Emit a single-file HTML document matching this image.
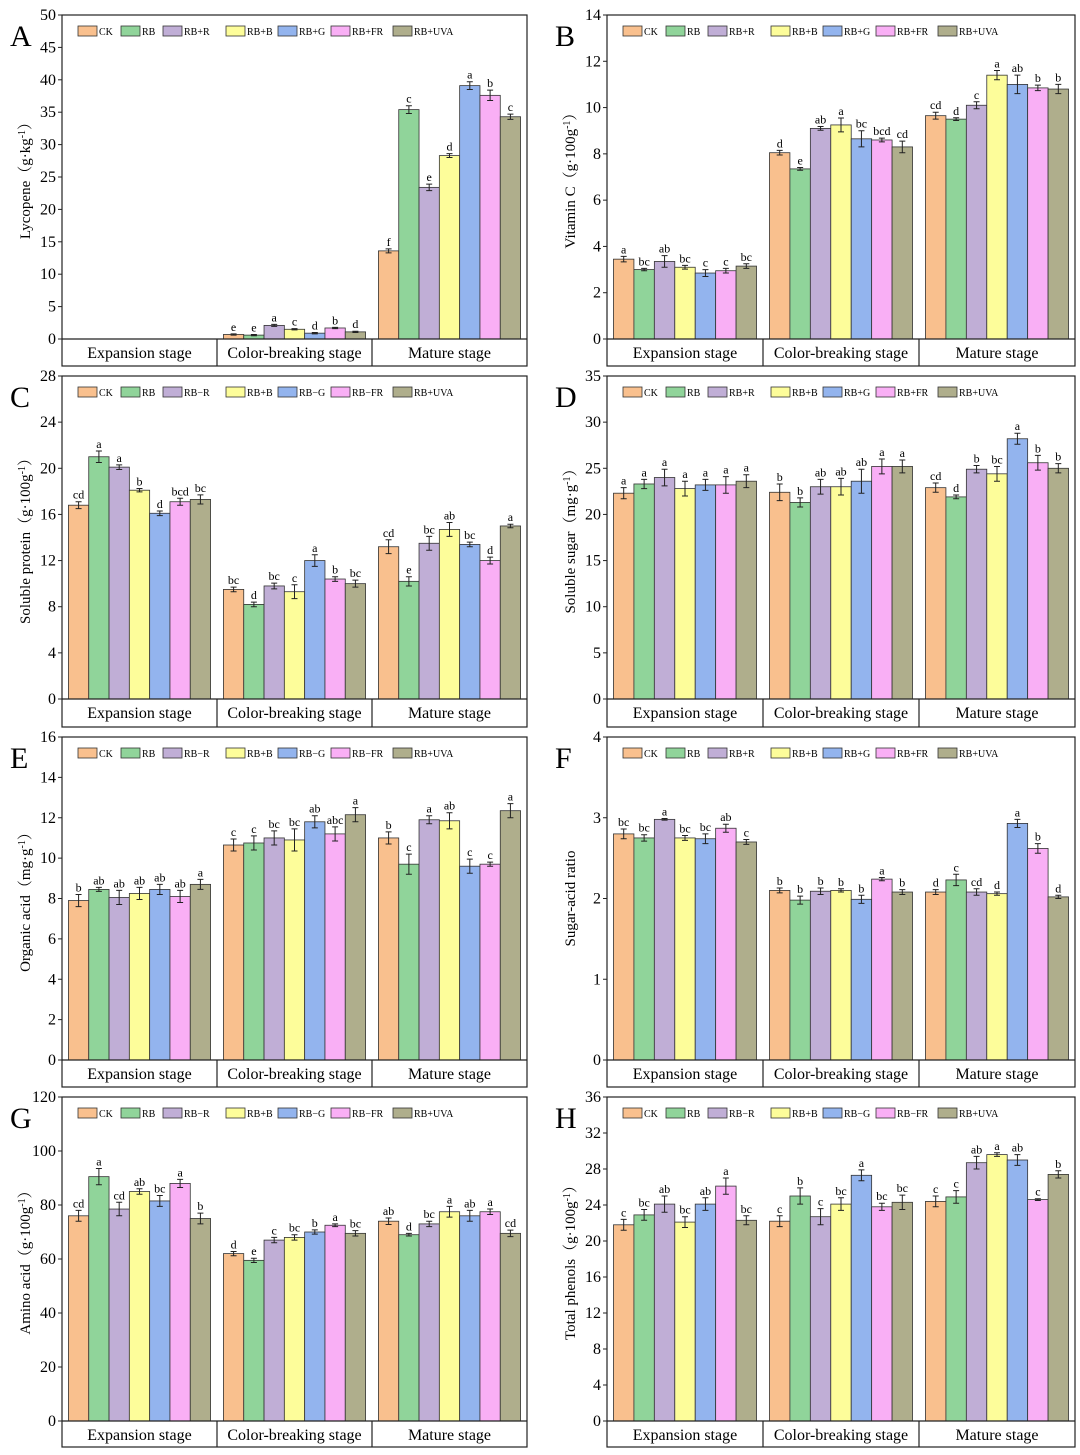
<!DOCTYPE html>
<html><head><meta charset="utf-8">
<style>
html,body{margin:0;padding:0;background:#fff;}
svg{display:block;font-family:"Liberation Serif","Noto Serif CJK SC",serif;}
</style></head>
<body>
<svg id="fig" width="1080" height="1455" viewBox="0 0 1080 1455" xmlns="http://www.w3.org/2000/svg"></svg>
<script>
const categories = ["Expansion stage","Color-breaking stage","Mature stage"];
const treatments = ["CK","RB","RB+R","RB+B","RB+G","RB+FR","RB+UVA"];
const colors = ["#F9C08E","#90D49A","#C0AED6","#FDFD9A","#93B4EE","#F9AFF5","#AFAE8C"];

const valsA = [[0,0,0,0,0,0,0],[0.7,0.6,2.1,1.5,0.9,1.7,1.1],[13.6,35.4,23.4,28.3,39.1,37.6,34.3]];
const errA = [[0,0,0,0,0,0,0],[0.1,0.1,0.15,0.1,0.1,0.1,0.1],[0.3,0.6,0.5,0.3,0.6,0.8,0.4]];
const letA = [["","","","","","",""],["e","e","a","c","d","b","d"],["f","c","e","d","a","b","c"]];
const ticksA = [0,5,10,15,20,25,30,35,40,45,50];

const valsB = [[3.45,3.0,3.35,3.1,2.85,2.95,3.15],[8.05,7.35,9.1,9.25,8.65,8.6,8.3],[9.65,9.5,10.1,11.4,11.0,10.85,10.8]];
const errB = [[0.12,0.05,0.25,0.08,0.15,0.1,0.1],[0.1,0.06,0.08,0.3,0.35,0.08,0.25],[0.15,0.06,0.15,0.2,0.4,0.12,0.2]];
const letB = [["a","bc","ab","bc","c","c","bc"],["d","e","ab","a","bc","bcd","cd"],["cd","d","c","a","ab","b","b"]];
const ticksB = [0,2,4,6,8,10,12,14];

const valsC = [[16.8,21.0,20.1,18.1,16.1,17.1,17.3],[9.5,8.2,9.8,9.3,12.0,10.4,10.0],[13.2,10.2,13.5,14.7,13.4,12.0,15.0]];
const errC = [[0.3,0.5,0.2,0.15,0.2,0.3,0.4],[0.2,0.2,0.25,0.6,0.5,0.2,0.3],[0.6,0.4,0.6,0.6,0.2,0.3,0.15]];
const letC = [["cd","a","a","b","d","bcd","bc"],["bc","d","bc","c","a","b","bc"],["cd","e","bc","ab","bc","d","a"]];
const ticksC = [0,4,8,12,16,20,24,28];

const valsD = [[22.3,23.3,24.0,22.8,23.2,23.2,23.6],[22.4,21.3,23.0,23.0,23.6,25.2,25.2],[22.9,21.9,24.9,24.4,28.2,25.6,25.0]];
const errD = [[0.6,0.5,0.9,0.8,0.6,0.9,0.7],[0.9,0.5,0.8,0.9,1.3,0.8,0.7],[0.5,0.2,0.4,0.8,0.6,0.8,0.5]];
const letD = [["a","a","a","a","a","a","a"],["b","b","ab","ab","ab","a","a"],["cd","d","b","bc","a","b","b"]];
const ticksD = [0,5,10,15,20,25,30,35];

const valsE = [[7.9,8.45,8.05,8.25,8.45,8.1,8.7],[10.65,10.75,11.0,10.9,11.8,11.2,12.15],[11.0,9.7,11.9,11.85,9.6,9.7,12.35]];
const errE = [[0.3,0.1,0.35,0.3,0.25,0.3,0.25],[0.3,0.35,0.35,0.55,0.3,0.35,0.35],[0.3,0.5,0.2,0.4,0.35,0.1,0.35]];
const letE = [["b","ab","ab","ab","ab","ab","a"],["c","c","bc","bc","ab","abc","a"],["b","c","a","ab","c","c","a"]];
const ticksE = [0,2,4,6,8,10,12,14,16];

const valsF = [[2.8,2.75,2.98,2.75,2.74,2.87,2.7],[2.1,1.98,2.09,2.1,1.99,2.24,2.08],[2.08,2.23,2.08,2.06,2.93,2.62,2.02]];
const errF = [[0.06,0.04,0.01,0.03,0.06,0.05,0.03],[0.03,0.05,0.04,0.02,0.05,0.02,0.03],[0.03,0.07,0.04,0.02,0.05,0.06,0.02]];
const letF = [["bc","bc","a","bc","bc","ab","c"],["b","b","b","b","b","a","b"],["d","c","cd","d","a","b","d"]];
const ticksF = [0,1,2,3,4];

const valsG = [[76,90.5,78.5,85,81.5,88,75],[62,59.5,67,68,70,72.5,69.5],[74,69,73,77.5,76,77.5,69.5]];
const errG = [[2,3,2.5,1,2,1.5,2],[0.8,0.8,1,1,0.8,0.5,1],[1.2,0.5,1,2,2,1,1.2]];
const letG = [["cd","a","cd","ab","bc","a","b"],["d","e","c","bc","b","a","bc"],["ab","d","bc","a","ab","a","cd"]];
const ticksG = [0,20,40,60,80,100,120];

const valsH = [[21.8,22.9,24.1,22.1,24.1,26.1,22.3],[22.2,25.0,22.7,24.1,27.3,23.8,24.3],[24.4,24.9,28.7,29.6,29.0,24.6,27.4]];
const errH = [[0.6,0.6,0.9,0.6,0.7,0.9,0.5],[0.6,0.9,0.9,0.7,0.6,0.4,0.8],[0.6,0.7,0.7,0.2,0.6,0.1,0.4]];
const letH = [["c","bc","ab","bc","ab","a","bc"],["c","b","c","bc","a","bc","bc"],["c","c","ab","a","ab","c","b"]];
const ticksH = [0,4,8,12,16,20,24,28,32,36];

const svg = document.getElementById('fig');
const NS = "http://www.w3.org/2000/svg";
function mk(tag, attrs, parent){
  const e = document.createElementNS(NS, tag);
  for (const k in attrs) e.setAttribute(k, attrs[k]);
  (parent||svg).appendChild(e);
  return e;
}

function panel(cfg){
  const {id, letter, x0, x1, yTop, yAxis, yBot, ticks, vals, errs, lets, title, legendLabels} = cfg;
  const g = mk('g', {});
  
  
  const ymax = ticks[ticks.length-1];
  const yS = v => yAxis - (v/ymax)*(yAxis-yTop);
  const gw = (x1-x0)/3;
  const bw = gw*0.131;
  const pad = (gw - 7*bw)/2;
  for (let c=0;c<3;c++){
    for (let t=0;t<7;t++){
      const v = vals[c][t];
      if (v<=0) continue;
      const bx = x0 + c*gw + pad + t*bw;
      const r = mk('rect', {x:bx, y:yS(v), width:bw, height:yAxis-yS(v), fill:colors[t], stroke:'#333', 'stroke-width':0.8}, g);
      
      
      const e = errs[c][t];
      const cx = bx + bw/2;
      const eb = mk('path', {d:`M${cx-3},${yS(v+e)}H${cx+3}M${cx},${yS(v+e)}V${yS(v-e)}M${cx-3},${yS(v-e)}H${cx+3}`, stroke:'#222', 'stroke-width':1, fill:'none'}, g);
      
      
      const lt = mk('text', {x:cx, y:yS(v+e)-3, 'text-anchor':'middle', 'font-size':12}, g);
      
      
      lt.textContent = lets[c][t];
    }
  }
  const fr = mk('rect', {x:x0, y:yTop, width:x1-x0, height:yBot-yTop, fill:'none', stroke:'#222', 'stroke-width':1.2}, g);
  
  
  mk('line', {x1:x0, x2:x1, y1:yAxis, y2:yAxis, stroke:'#222', 'stroke-width':1.2}, g);
  for (let c=1;c<3;c++){
    mk('line', {x1:x0+c*gw, x2:x0+c*gw, y1:yAxis, y2:yBot, stroke:'#222', 'stroke-width':1.2}, g);
  }
  for (let c=0;c<3;c++){
    const ct = mk('text', {x:x0+c*gw+gw/2, y:yAxis+19, 'text-anchor':'middle', 'font-size':16}, g);
    
    
    ct.textContent = categories[c];
  }
  ticks.forEach(tv=>{
    const y = yS(tv);
    mk('line', {x1:x0-4, x2:x0, y1:y, y2:y, stroke:'#222', 'stroke-width':1}, g);
    const tt = mk('text', {x:x0-6, y:y+5, 'text-anchor':'end', 'font-size':16}, g);
    
    
    tt.textContent = tv;
  });
  const cy = (yTop+yAxis)/2;
  const yt = mk('text', {x:0, y:0, transform:`translate(${x0-32},${cy}) rotate(-90)`, 'text-anchor':'middle', 'font-size':15}, g);
  
  
  yt.innerHTML = title;
  const pl = mk('text', {x:x0-52, y:yTop+31, 'font-size':30}, g);
  
  
  pl.textContent = letter;
  const lx = [16, 59, 101, 164, 216, 269, 331];
  for (let t=0;t<7;t++){
    const sx = x0 + lx[t];
    const sw = mk('rect', {x:sx, y:yTop+11, width:19, height:10, fill:colors[t], stroke:'#333', 'stroke-width':0.8}, g);
    
    
    const ltx = mk('text', {x:sx+21, y:yTop+20, 'font-size':10}, g);
    
    
    ltx.textContent = legendLabels[t];
  }
}

const L = [62, 527], R = [607, 1075];
const rows = [[15,339,366],[376,699,727],[737,1060,1087],[1097,1421,1447]];
const sup = s => `<tspan baseline-shift="super" font-size="10">${s}</tspan>`;
const legA = ["CK","RB","RB+R","RB+B","RB+G","RB+FR","RB+UVA"];
const legH = ["CK","RB","RB−R","RB+B","RB−G","RB−FR","RB+UVA"];
panel({id:'A',letter:'A',x0:L[0],x1:L[1],yTop:rows[0][0],yAxis:rows[0][1],yBot:rows[0][2],ticks:ticksA,vals:valsA,errs:errA,lets:letA,title:'Lycopene（g·kg'+sup('-1')+'）',legendLabels:legA});
panel({id:'B',letter:'B',x0:R[0],x1:R[1],yTop:rows[0][0],yAxis:rows[0][1],yBot:rows[0][2],ticks:ticksB,vals:valsB,errs:errB,lets:letB,title:'Vitamin C（g·100g'+sup('-1')+'）',legendLabels:legA});
panel({id:'C',letter:'C',x0:L[0],x1:L[1],yTop:rows[1][0],yAxis:rows[1][1],yBot:rows[1][2],ticks:ticksC,vals:valsC,errs:errC,lets:letC,title:'Soluble protein（g·100g'+sup('-1')+'）',legendLabels:legH});
panel({id:'D',letter:'D',x0:R[0],x1:R[1],yTop:rows[1][0],yAxis:rows[1][1],yBot:rows[1][2],ticks:ticksD,vals:valsD,errs:errD,lets:letD,title:'Soluble sugar（mg·g'+sup('-1')+'）',legendLabels:legA});
panel({id:'E',letter:'E',x0:L[0],x1:L[1],yTop:rows[2][0],yAxis:rows[2][1],yBot:rows[2][2],ticks:ticksE,vals:valsE,errs:errE,lets:letE,title:'Organic acid（mg·g'+sup('-1')+'）',legendLabels:legH});
panel({id:'F',letter:'F',x0:R[0],x1:R[1],yTop:rows[2][0],yAxis:rows[2][1],yBot:rows[2][2],ticks:ticksF,vals:valsF,errs:errF,lets:letF,title:'Sugar-acid ratio',legendLabels:legA});
panel({id:'G',letter:'G',x0:L[0],x1:L[1],yTop:rows[3][0],yAxis:rows[3][1],yBot:rows[3][2],ticks:ticksG,vals:valsG,errs:errG,lets:letG,title:'Amino acid（g·100g'+sup('-1')+'）',legendLabels:legH});
panel({id:'H',letter:'H',x0:R[0],x1:R[1],yTop:rows[3][0],yAxis:rows[3][1],yBot:rows[3][2],ticks:ticksH,vals:valsH,errs:errH,lets:letH,title:'Total phenols（g·100g'+sup('-1')+'）',legendLabels:legH});
</script>
</body></html>
